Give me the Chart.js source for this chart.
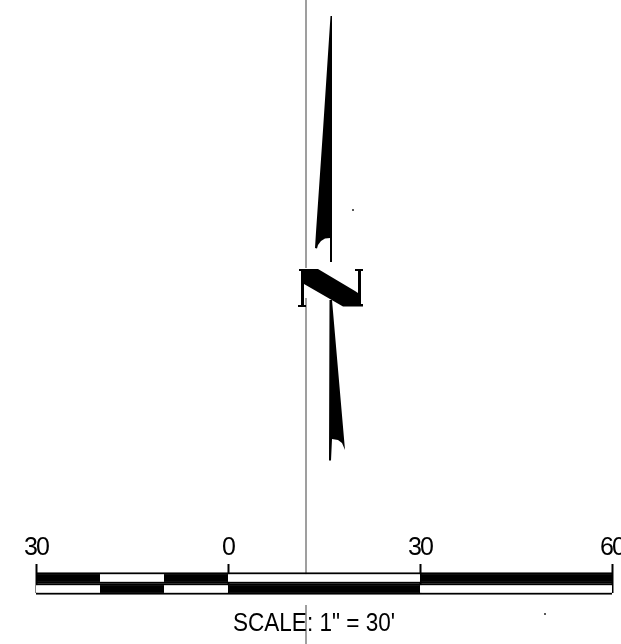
<!DOCTYPE html>
<html>
<head>
<meta charset="utf-8">
<style>html,body{margin:0;padding:0;background:#fff}canvas{display:block}</style>
<script src="https://cdn.jsdelivr.net/npm/chart.js@4"></script>
</head>
<body>
<canvas id="c" width="621" height="644"></canvas>
<script>
// Scale bar (feet)
const scaleTicks = [-30, 0, 30, 60];
const darkUpper = [[-30, -20], [-10, 0], [30, 60]];
const lightUpper = [[-20, -10], [0, 30]];
const darkLower = [[-20, -10], [0, 30]];
const lightLower = [[-30, -20], [-10, 0], [30, 60]];
const scaleCaption = 'SCALE: 1" = 30\'';

// North arrow outlines in sheet units
const upperBlade = [[330.5,16],[332,16],[332,262],[330,262],[330,238],[325,238.5],[321,241],[318,245],[317,248.5],[315,248],[316,232],[323,130]];
const lowerBlade = [[329.5,300],[332,300],[345,450],[342,443],[338,440],[332,439],[331,460.5],[329,460.5]];
const letterN = [[299,269],[318,269],[355,291],[358,293],[358,271],[355,271],[355,269],[363,269],[363,271],[361,271],[361,304],[363,304],[363,306.5],[343,306.5],[304,284],[304,305],[306,305],[306,307],[298,307],[298,305],[301,305],[301,271],[299,271]];
const guideTop = [[306,0],[306,268]];
const guideMid = [[306,298],[306,575]];
const guideLow = [[306,605],[306,644]];
const specks = [[353,210],[545,614]];

const toXY = a => a.map(p => ({x: p[0], y: p[1]}));
const bars = (ranges, row) => ranges.map(r => ({x: r, y: row}));
const shape = (pts) => ({type: 'scatter', data: toXY(pts), xAxisID: 'sx', yAxisID: 'sy', showLine: true,
  fill: 'shape', backgroundColor: '#000', borderColor: '#000', borderWidth: 0, pointRadius: 0});
const guide = (pts) => ({type: 'scatter', data: toXY(pts), xAxisID: 'sx', yAxisID: 'sy', showLine: true,
  borderColor: '#777', borderWidth: 1.4, pointRadius: 0, order: 5});
const bar = (data, color) => ({type: 'bar', indexAxis: 'y', grouped: false, data, xAxisID: 'feet', yAxisID: 'row',
  backgroundColor: color, borderColor: '#000', borderWidth: {top: 2, bottom: 2, left: 0, right: 0},
  barThickness: 11, order: 3, borderSkipped: false});

const textStyle = {
  id: 'textStyle',
  beforeDraw(chart) { chart.ctx.letterSpacing = '-2px'; },
  afterDraw(chart) {
    const c = chart.ctx;
    c.save();
    c.letterSpacing = '0px';
    c.fillStyle = '#000';
    c.font = '26px "Liberation Sans"';
    c.textAlign = 'left';
    c.textBaseline = 'alphabetic';
    c.fillText(scaleCaption, 233, 631, 162);
    c.restore();
  }
};

const feetRange = {min: -35.625, max: 61.406};
const noMargins = s => { s.paddingLeft = s.paddingRight = s.paddingTop = s.paddingBottom = 0; };

new Chart(document.getElementById('c'), {
  data: {
    datasets: [
      bar(bars(darkUpper, 1), '#000'),
      bar(bars(lightUpper, 1), '#fff'),
      bar(bars(darkLower, 2), '#000'),
      bar(bars(lightLower, 2), '#fff'),
      shape(upperBlade), shape(lowerBlade), shape(letterN),
      guide(guideTop), guide(guideMid), guide(guideLow),
      {type: 'scatter', data: toXY(specks), xAxisID: 'sx', yAxisID: 'sy', pointRadius: 1, backgroundColor: '#222', borderWidth: 0}
    ]
  },
  options: {
    responsive: false,
    animation: false,
    layout: {padding: 0, autoPadding: false},
    plugins: {legend: {display: false}, tooltip: {enabled: false}, title: {display: false}},
    scales: {
      sx: {type: 'linear', axis: 'x', display: false, min: 0, max: 621},
      sy: {type: 'linear', axis: 'y', display: false, min: 0, max: 644, reverse: true},
      row: {type: 'linear', axis: 'y', display: false, offset: false, min: -51.545, max: 7, reverse: true},
      feet: {
        type: 'linear', axis: 'x', ...feetRange,
        position: {row: -3.8},
        border: {display: false},
        grid: {display: false},
        afterBuildTicks: s => { s.ticks = scaleTicks.map(v => ({value: v})); },
        afterFit: noMargins,
        ticks: {autoSkip: false, maxRotation: 0, padding: 0, color: '#000',
          font: {family: '"Liberation Sans"', size: 25},
          callback: v => String(Math.abs(v))}
      },
      feetMarks: {
        type: 'linear', axis: 'x', ...feetRange,
        position: {row: -0.27},
        border: {display: false},
        grid: {drawOnChartArea: false, drawTicks: true, tickLength: 29, tickWidth: 2, tickColor: '#000'},
        afterBuildTicks: s => { s.ticks = scaleTicks.map(v => ({value: v})); },
        afterFit: noMargins,
        ticks: {display: false}
      }
    }
  },
  plugins: [textStyle]
});
</script>
</body>
</html>
